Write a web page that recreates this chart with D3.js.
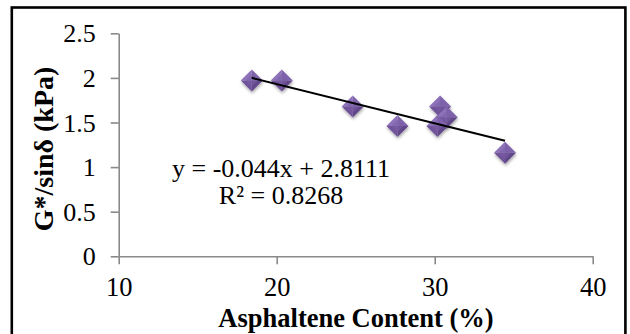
<!DOCTYPE html>
<html>
<head>
<meta charset="utf-8">
<script src="https://cdn.jsdelivr.net/npm/d3@7"></script>
<style>
  html, body { margin: 0; padding: 0; background: #fff; }
  svg { display: block; }
</style>
</head>
<body>
<svg id="chart" width="630" height="334"></svg>
<script>
// Asphaltene content (%) and G*/sinδ (kPa) for each binder sample
const asphalteneContent = [18.42, 20.32, 24.81, 27.64, 30.34, 30.76, 30.17, 34.45];
const stiffness = [1.97, 1.97, 1.68, 1.46, 1.68, 1.56, 1.46, 1.16];

// Linear trend line and its fit
const trendSlope = -0.044;
const trendIntercept = 2.8111;
const rSquared = 0.8268;

const xTicks = [10, 20, 30, 40];
const yTicks = [0, 0.5, 1, 1.5, 2, 2.5];

const xTitle = "Asphaltene Content (%)";
const yTitle = "G*/sinδ (kPa)";

const svg = d3.select("#chart");
const font = "'Liberation Serif', 'Times New Roman', serif";
const axisGray = "#8a8a8a";

const x = d3.scaleLinear().domain([10, 40]).range([118.7, 592.7]);
const y = d3.scaleLinear().domain([0, 2.5]).range([256.3, 33.3]);

svg.append("rect").attr("width", 630).attr("height", 334).attr("fill", "#fff");

// Outer frame
svg.append("rect")
  .attr("x", 11.8).attr("y", 7.5)
  .attr("width", 613.6).attr("height", 400)
  .attr("fill", "none").attr("stroke", "#000").attr("stroke-width", 2.6);

// Axes
const xAxis = svg.append("g")
  .attr("transform", `translate(0,${y(0)})`)
  .call(d3.axisBottom(x).tickValues(xTicks).tickSize(8).tickSizeOuter(0).tickFormat(d3.format("d")));

const yAxis = svg.append("g")
  .attr("transform", `translate(${x(10)},0)`)
  .call(d3.axisLeft(y).tickValues(yTicks).tickSize(8).tickSizeOuter(0).tickPadding(15)
    .tickFormat(d => d3.format("")(d)));

[xAxis, yAxis].forEach(g => {
  g.select(".domain").attr("stroke", axisGray).attr("stroke-width", 1.6);
  g.selectAll(".tick line").attr("stroke", axisGray).attr("stroke-width", 1.6);
  g.selectAll(".tick text")
    .attr("fill", "#000")
    .style("font-family", font);
});
xAxis.selectAll(".tick text").style("font-size", "26.5px").attr("y", 21).attr("dy", "0.71em");
yAxis.selectAll(".tick text").style("font-size", "26px").attr("dy", "0.33em");

// Axis titles
svg.append("text")
  .attr("x", 356).attr("y", 327)
  .attr("text-anchor", "middle")
  .style("font-family", font).style("font-size", "26.5px").style("font-weight", "bold")
  .text(xTitle);

svg.append("text")
  .attr("transform", "translate(53,149) rotate(-90)")
  .attr("text-anchor", "middle")
  .style("font-family", font).style("font-size", "28px").style("font-weight", "bold")
  .text(yTitle);

// Marker shadow
const defs = svg.append("defs");
const f = defs.append("filter").attr("id", "shadow")
  .attr("x", "-50%").attr("y", "-50%").attr("width", "200%").attr("height", "200%");
f.append("feDropShadow").attr("dx", 0.5).attr("dy", 2).attr("stdDeviation", 1.6)
  .attr("flood-color", "#000").attr("flood-opacity", 0.35);

const points = asphalteneContent.map((v, i) => ({ x: v, y: stiffness[i] }));
const r = 11;

const markers = svg.append("g").selectAll("g").data(points).join("g")
  .attr("transform", d => `translate(${x(d.x)},${y(d.y)})`)
  .attr("filter", "url(#shadow)");

// Bevelled diamond: lighter upper facets, darker lower facets
markers.append("path").attr("d", `M${-r},0L0,${-r}L0,0Z`).attr("fill", "#8d71b9");
markers.append("path").attr("d", `M0,${-r}L${r},0L0,0Z`).attr("fill", "#7f62ac");
markers.append("path").attr("d", `M${-r},0L0,${r}L0,0Z`).attr("fill", "#6f5399");
markers.append("path").attr("d", `M0,${r}L${r},0L0,0Z`).attr("fill", "#62478b");
markers.append("path")
  .attr("d", `M${-r * 0.55},0L0,${-r * 0.55}L${r * 0.55},0L0,${r * 0.55}Z`)
  .attr("fill", "#7a5ea8").attr("opacity", 0.55);

// Trend line over the data range
const xMin = d3.min(asphalteneContent), xMax = d3.max(asphalteneContent);
svg.append("line")
  .attr("x1", x(xMin)).attr("y1", y(trendSlope * xMin + trendIntercept))
  .attr("x2", x(xMax)).attr("y2", y(trendSlope * xMax + trendIntercept))
  .attr("stroke", "#000").attr("stroke-width", 2);

// Equation label
const eq = svg.append("text")
  .attr("text-anchor", "middle")
  .style("font-family", font).style("font-size", "26px");
eq.append("tspan").attr("x", 281).attr("y", 177)
  .text(`y = ${trendSlope}x + ${trendIntercept}`);
eq.append("tspan").attr("x", 281).attr("y", 204)
  .text(`R² = ${rSquared}`);
</script>
</body>
</html>
